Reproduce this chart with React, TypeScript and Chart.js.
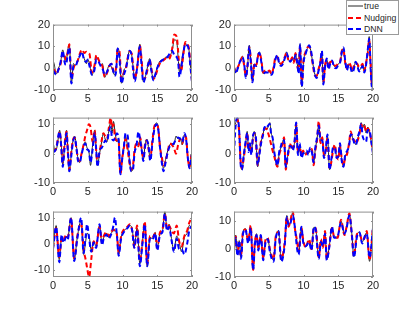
import React, { useEffect, useRef } from "react";
import { Chart, registerables } from "chart.js";
Chart.register(...registerables);

// ---------- data ----------
const SERIES_NAMES = ["true", "Nudging", "DNN"];
const X_TICKS = [0, 5, 10, 15, 20];
const Y_TICKS_TOP = [-10, 0, 10, 20];
const Y_TICKS = [-10, 0, 10];

const T1 = [0,0.2,0.45,0.8,1.1,1.4,1.65,1.85,2.2,2.35,2.65,2.95,3.25,3.5,3.9,4.15,4.5,4.8,5.0,5.25,5.6,5.95,6.25,6.55,6.85,7.1,7.45,7.8,8.1,8.4,8.65,8.9,9.1,9.3,9.55,9.85,10.2,10.5,10.7,11.0,11.3,11.5,11.75,12.1,12.5,12.75,13.0,13.35,13.7,13.9,14.15,14.45,14.8,15.1,15.5,15.85,16.25,16.55,16.85,17.15,17.45,17.8,18.0,18.2,18.45,18.75,19.05,19.3,19.5,19.7,20];
const TRUE1 = [3.9,1.4,-2.7,0,2.9,8.4,4.4,2.9,9.7,11,-7,2.1,1.4,2.9,5.9,7.1,4.4,2.1,3.9,2.1,-3.2,0.6,5.1,3.6,1.4,2.1,-4.2,-0.9,1.4,0.6,-1.7,-3.2,0.6,9.2,6.6,-6.9,-0.9,0.6,3.6,8.1,6.6,1.4,-5,0.6,11,2.1,-6.2,-3.2,2.1,4.4,-0.9,-5,-1.7,1.4,3.6,3.9,5.1,4.8,5.9,8.1,13,12.4,5.1,-1.7,2.1,8.1,11.5,10,9.7,3.6,-6.2];
const NUDGING1 = [0,-1,-2.5,-0.5,2,7,6,4,9,11,-5,0,2,3,7,8.5,7,7.5,7,6.5,-2,1,6,4,2,1,-4,-2,1,2,-1,-2,1,8.5,8,-5,-2,0,4,7.5,7,2,-5,0,10.5,4,-5,-4,1,4,0,-5,-3,0,3,3.5,4.5,4,5,9,15.5,14.5,8,0,-1,6,12,11,10,5,-6];
const DNN1 = [-1,-2,-3,-0.5,3,8,3,1.5,8,9.5,-7,1,1,3,6,7.5,3.5,3,4,1,-3,-1,4,3,1,0,-3,-1.5,1,2,-1,-3.5,-1,9,5,-7,-3,0,3,8,6,0,-6,0,10,1,-6.5,-3,2,4,-1,-5.5,-2,1,3,4,4.5,5.5,7,8,6,5,3,-4,0,7,11,10.5,9,3,-6.5];

const T2 = [0,0.25,0.55,0.85,1.2,1.45,1.7,1.95,2.2,2.45,2.65,2.95,3.2,3.45,3.65,3.9,4.2,4.5,4.8,5.1,5.4,5.7,6.0,6.25,6.5,6.8,7.1,7.35,7.55,7.8,8.1,8.4,8.6,8.85,9.1,9.3,9.5,9.75,10.0,10.3,10.55,10.8,11.05,11.35,11.65,11.9,12.15,12.4,12.65,12.85,13.1,13.35,13.6,13.85,14.1,14.4,14.7,15.0,15.3,15.55,15.75,16.0,16.25,16.5,16.75,17.0,17.25,17.5,17.75,18.0,18.25,18.5,18.75,19.0,19.25,19.45,19.7,19.85,20];
const TRUE2 = [0,-2,0,3,5.5,2,-4,1,10.5,2,-6,2,1,6,7.5,4,-2.5,-1.5,-2,-1.5,-3,0,5,5.5,2.5,1.5,3,5,7.5,4.5,3,4.5,3,6.5,2,-2,11,-8.5,3,7,9,10.5,8,2,-3,-4,-1,2,7.5,-7,1,4,0,2.5,3.5,1,0.5,2,3,8,9,3,-0.5,2,1,-1.5,0,3,1.5,-1,0,1.5,-1.5,2,8,14.5,-2,-8.5,4];
const NUDGING2 = [0.5,-1.5,0.5,2.5,5,1.5,-3.5,1.5,9.5,3,-5.5,2.5,1.5,5.5,7,4.5,-2,-1,-1.5,-1,-2.5,0.5,5.5,5,3,2,3.5,5.5,7,4,3.5,5,2.5,7,1,-1,10,-7.5,3.5,7.5,9.5,10,7.5,1.5,-3.5,-3.5,-0.5,2.5,7,-6.5,1.5,3.5,0.5,3,3,1.5,1,2.5,3.5,8.5,8.5,2.5,0,2.5,1.5,-1,1,2.5,2,0.5,1,2,-1,2.5,7,13,-1,-7.5,5];
const DNN2 = [0,-2.5,0,3,5,2.5,-4.5,1,10,1.5,-6.5,1.5,1,6,7,3.5,-2.5,-2,-2,-2,-3,-0.5,4.5,6,2,1,2.5,5,7,5,3,4,3.5,6,2.5,-2.5,11,-8.5,2.5,6.5,9,10.5,8.5,2.5,-3,-4.5,-1.5,2,8,-7.5,0.5,4.5,-0.5,2,3.5,0.5,0,1.5,3,8,9.5,3.5,-1,1.5,0.5,-2,-0.5,3,1,-1.5,-0.5,1,-2,1.5,8.5,13.5,-2.5,-9,3.5];

const T3 = [0,0.3,0.55,0.8,0.95,1.2,1.4,1.65,1.95,2.15,2.35,2.6,2.85,3.1,3.35,3.6,3.85,4.1,4.4,4.65,4.9,5.15,5.4,5.7,6.0,6.2,6.4,6.7,7.0,7.25,7.5,7.75,8.05,8.3,8.5,8.7,8.95,9.2,9.45,9.7,9.95,10.2,10.45,10.75,11.0,11.25,11.5,11.75,12.0,12.3,12.55,12.8,13.0,13.25,13.5,13.75,14.0,14.3,14.6,14.9,15.15,15.4,15.65,15.9,16.2,16.5,16.8,17.1,17.4,17.7,18.0,18.3,18.6,18.9,19.15,19.4,19.65,19.85,20];
const TRUE3 = [4,1,2,6,8,3,-4,2,8,1,-6,-1,4,6,3,-2,-3,0,3,4,2,1,-4,3,8,2,-4,0,4,7,5,4,8,11,7,11,7,4,5,-6,-1,3,6,2,-2,-6,-5,1,3,3,5,1,-2,3,5,2,-2,4,9,10.5,9,3,-2,-5,-2,1,3,3.5,3,6,5,5.5,3,6.5,5,-1,-5,-1,0];
const NUDGING3 = [1,1,3,6,7.5,2,-3,3,7.5,0,-5.5,0,4.5,5.5,2,-1.5,-2.5,0,3,6,8,10,9,4,8,1.5,-3.5,0.5,4.5,7,6,5,9,12.3,9,10,5,4.5,4,-7,-2,2,5,1,-3,-5.5,-4,1.5,3.5,2.5,5.5,0.5,-1.5,3.5,4.5,1.5,-1.5,4.5,9.5,10,8.5,2,-1,-4,-2.5,0.5,3.5,3,2,0,3,5,3.5,6,5.5,-1.5,-4.5,-1.5,0.5];
const DNN3 = [0.5,1,2.5,6.5,7.5,2,-4.5,1.5,7,0.5,-6,-1.5,3.5,5.5,2.5,-2.5,-3,-0.5,2.5,3.5,1.5,1,-3,1.5,7,2,-4.5,1,2,3,4.5,4,7.5,9,5,4.5,5.5,7,4.5,-7,-2,2.5,7,6,-2,-6,-5.5,0.5,2.5,7.5,4.5,0.5,-2.5,2.5,4.5,2.5,-2.5,3.5,8.5,10,8,2,-3,-6,-3,0.5,2.5,3,3.5,5,5.5,5,4,7,5,-1.5,-5,-2,0];

const T4 = [0,0.25,0.5,0.75,0.95,1.15,1.4,1.7,1.9,2.1,2.3,2.5,2.7,2.9,3.15,3.4,3.65,3.9,4.15,4.4,4.65,4.9,5.15,5.35,5.55,5.8,6.05,6.25,6.5,6.75,7.0,7.2,7.45,7.7,7.95,8.2,8.45,8.7,8.95,9.2,9.45,9.7,9.95,10.2,10.45,10.7,10.95,11.2,11.45,11.7,11.95,12.2,12.45,12.7,12.95,13.2,13.45,13.75,14.0,14.25,14.5,14.75,15.0,15.25,15.5,15.75,16.0,16.3,16.55,16.8,17.05,17.3,17.55,17.8,18.05,18.3,18.5,18.75,19.0,19.25,19.5,19.75,20];
const TRUE4 = [9,10.5,12,8,-3,-5.5,-1,4,7.5,1,3,0,5,7.5,5,-4.5,0,4,6,9,8,9,10.5,7,5,0,-3,-4.5,0,2,4,5,-5,-1,2,3,1.5,3.5,10.5,0,3,-1,0.5,0,0.5,0,1.5,1,-3.5,1.5,5,10,4,5,-1,1,6,-5.5,-2.5,1.5,2.5,-1,-1.5,3,-2,-4.5,-1,0.5,3,7,5.5,4,3,5,7,10.5,8.5,10,7,9,7,4,0];
const NUDGING4 = [8.5,10,11.5,7,-2.5,-5,-1.5,3.5,7,1.5,2.5,0.5,4.5,7,4.5,-4,0.5,4.5,6.5,8.5,8.5,7,5,3,1,-1,-3.5,-4.5,-0.5,1.5,3.5,5.5,-5.5,-1.5,1.5,3.5,2,3,10,0.5,2.5,-0.5,1,-0.5,0,0.5,1,1.5,-4,1,4.5,11,3.5,5.5,-0.5,0.5,5.5,-5,-3,1,3,-0.5,-2,2.5,-1.5,-4,-1.5,0,3.5,7.5,5,4.5,3.5,4.5,6.5,10,9,9.5,7.5,8.5,7.5,4.5,0.5];
const DNN4 = [0,10,12,7.5,-3.5,-5.5,-0.5,4.5,7,0.5,3.5,-0.5,5.5,7,5.5,-4,-0.5,3.5,6,9,8.5,9.5,10,6.5,5.5,0.5,-2.5,-4,0.5,2.5,4.5,4.5,-4.5,-1,2.5,2.5,1,4,10.5,-0.5,3.5,-1.5,0,0.5,1,-0.5,2,0.5,-3,2,5.5,9.5,4.5,4.5,-1.5,1.5,6.5,-5.5,-2,2,2,-1.5,-1,3.5,-2.5,-4.5,-0.5,1,2.5,6.5,6,3.5,3,5.5,7.5,10,6,4.5,4,8,8,4,0];

const T5 = [0,0.45,0.9,1.25,1.5,1.9,2.1,2.6,3.05,3.5,4.05,4.4,4.7,4.9,5.2,5.5,5.85,6.2,6.7,7.05,7.3,7.7,8.0,8.35,8.7,8.9,9.2,9.45,9.8,10.2,10.7,11.05,11.4,11.7,12.1,12.5,12.85,13.2,13.55,13.95,14.3,14.7,15.0,15.4,15.75,16.1,16.4,16.7,17.05,17.4,17.8,18.15,18.5,18.9,19.3,19.6,20];
const TRUE5 = [-2.5,7,-6,3,1,3,2,10,-6,2.5,9,-4,1,4,3,-2.5,1,-1,7,0,2.5,4,2.5,4,5,5,4,-4,2.5,5,6,7,5.6,-1,6,-7.5,0,8,-8.5,2.5,2,4.4,-2,4,5,12.3,5.6,7.5,2,-2.5,3,0.6,-3,2.5,4,7,6];
const NUDGING5 = [-1.5,6,-5,2.5,1.5,3.5,2.5,9.5,-5.5,3,8,-2,-6,-9,-12.6,-6,1,-0.5,6.5,0.5,3,4.5,3,4.5,5.5,5,3.5,-3.5,3,5.5,6.5,7.5,5,-1.5,7,-6.5,0.5,8.5,-7.5,3,2.5,4,-1.5,4.5,5.5,11.5,6,7,5,4,7,1,-1,3,5,8,10];
const DNN5 = [-2,6.5,-7,3.5,0.5,2.5,1.5,10,-6.5,2,10,-3.5,3,7.5,2,-3,0.5,-1.5,7.5,-0.5,2,3.5,2,3.5,7,10,3,-4.5,2,4.5,6,7,5,-1.5,5.5,-8.5,-0.5,7.5,-8.5,2,1.5,4,-2.5,3.5,4.5,11.5,5,6.5,1.5,-3,2,-2,-2,-4,0,5,7];

const T6 = [0,0.25,0.5,0.75,1.0,1.3,1.65,2.05,2.4,2.75,3.0,3.25,3.5,3.85,4.2,4.55,4.85,5.2,5.7,6.0,6.4,6.8,7.3,7.6,7.85,8.1,8.45,8.75,9.1,9.3,9.7,9.95,10.3,10.8,11.15,11.5,11.75,12.2,12.5,12.8,13.1,13.35,13.7,14.1,14.4,14.9,15.4,15.9,16.2,16.6,16.95,17.25,17.7,18.05,18.45,18.8,19.1,19.5,20];
const TRUE6 = [0,5,-2,3,-3,6,7.3,2.5,8,-7,2,5.5,0,5,-3.5,3,3.7,-1,-4,4,6.6,-4,2,12,8.3,9.5,13,7.8,2,-1.5,7.8,3,0.8,3,-0.3,7.8,7.2,-3.3,3,0.8,6,-3.8,0.8,7.8,4.3,4.3,10,5.5,7.8,12.4,5.5,-2.7,5,6,2.5,4.3,6,-4.4,7.8];
const NUDGING6 = [0.5,4.5,-1.5,2.5,-2.5,6.5,7,3,8.5,-7.5,2.5,5,0.5,4.5,-3,3.5,4,-0.5,-3.5,4.5,6,-3.5,2.5,11.5,8,10,13.4,7.5,2.5,-1,7.5,3.5,0.5,3.5,0,7.5,7.5,-3,3.5,0.5,6.5,-3.5,1,7.5,4.5,4,10.5,5,8,12.8,5,-2.5,5.5,5.5,3,4,6.5,-4,8];
const DNN6 = [-0.5,4,-2.5,3,-3.5,5.5,7,2,7.5,-7.5,1.5,5,-0.5,5,-4,2.5,3.5,-1.5,-4.5,3.5,6.5,-4.5,1.5,11.5,8.5,9,12,8,-0.3,-2,8,2.5,1,2.5,-0.5,8,7,-3.5,2.5,1,5.5,-4,0.5,8,4,4.5,9.5,5.5,7.5,12,5.5,-3,4.5,6,2,4.5,5.5,-3,7.5];

// ---------- layout / style ----------
const FONT = '"Liberation Sans", Arial, Helvetica, sans-serif';
const TEXT = "#262626";
const FRAME = "#8f8f8f";
const STYLES = [
  { color: "#262626", width: 1, dash: [] as number[] },
  { color: "#ff0000", width: 2, dash: [5, 3] },
  { color: "#0000ff", width: 2, dash: [5, 3] },
];
const PLOT_W = 139;
const PLOT_H = 67;
const PAD_L = 32, PAD_T = 8, PAD_R = 10, AX_H = 17;
const CW = PAD_L + PLOT_W + PAD_R;
const CH = PAD_T + PLOT_H + AX_H;

const PANELS = [
  { t: T1, s: [TRUE1, NUDGING1, DNN1], yMin: -10, yMax: 20, yTicks: Y_TICKS_TOP, left: 53, top: 23 },
  { t: T2, s: [TRUE2, NUDGING2, DNN2], yMin: -10, yMax: 20, yTicks: Y_TICKS_TOP, left: 234, top: 23 },
  { t: T3, s: [TRUE3, NUDGING3, DNN3], yMin: -10, yMax: 12.3, yTicks: Y_TICKS, left: 53, top: 116 },
  { t: T4, s: [TRUE4, NUDGING4, DNN4], yMin: -10, yMax: 12.2, yTicks: Y_TICKS, left: 234, top: 116 },
  { t: T5, s: [TRUE5, NUDGING5, DNN5], yMin: -12.6, yMax: 12.3, yTicks: Y_TICKS, left: 53, top: 210 },
  { t: T6, s: [TRUE6, NUDGING6, DNN6], yMin: -10, yMax: 13.4, yTicks: Y_TICKS, left: 234, top: 210 },
];

const framePlugin = {
  id: "matlabFrame",
  afterDraw(chart: any) {
    const { ctx, chartArea } = chart;
    const { left, top, right, bottom } = chartArea;
    const xs = chart.scales.x;
    const ys = chart.scales.y;
    ctx.save();
    ctx.strokeStyle = FRAME;
    ctx.lineWidth = 1;
    ctx.setLineDash([]);
    ctx.strokeRect(left + 0.5, top + 0.5, right - left - 1, bottom - top - 1);
    ctx.beginPath();
    const tl = 2;
    xs.ticks.forEach((tk: any) => {
      const px = Math.round(xs.getPixelForValue(tk.value)) + 0.5;
      ctx.moveTo(px, bottom);
      ctx.lineTo(px, bottom - tl);
      ctx.moveTo(px, top);
      ctx.lineTo(px, top + tl);
    });
    ys.ticks.forEach((tk: any) => {
      const py = Math.round(ys.getPixelForValue(tk.value)) + 0.5;
      ctx.moveTo(left, py);
      ctx.lineTo(left + tl, py);
      ctx.moveTo(right, py);
      ctx.lineTo(right - tl, py);
    });
    ctx.stroke();
    ctx.restore();
  },
};

function Panel({ cfg }: { cfg: (typeof PANELS)[number] }) {
  const ref = useRef<HTMLCanvasElement>(null);
  useEffect(() => {
    const chart = new Chart(ref.current as HTMLCanvasElement, {
      type: "line",
      data: {
        datasets: SERIES_NAMES.map((name, k) => ({
          label: name,
          data: cfg.t.map((x, i) => ({ x, y: cfg.s[k][i] })),
          borderColor: STYLES[k].color,
          borderWidth: STYLES[k].width,
          borderDash: STYLES[k].dash,
          pointRadius: 0,
          cubicInterpolationMode: "monotone" as const,
          fill: false,
          clip: 0,
          order: 3 - k,
        })),
      },
      options: {
        animation: false,
        responsive: false,
        devicePixelRatio: 1,
        events: [],
        layout: { padding: { left: 0, top: PAD_T, right: PAD_R, bottom: 0 } },
        plugins: { legend: { display: false }, tooltip: { enabled: false } },
        scales: {
          x: {
            type: "linear",
            min: 0,
            max: 20,
            afterBuildTicks: (s: any) => {
              s.ticks = X_TICKS.map((v) => ({ value: v }));
            },
            afterFit: (s: any) => {
              s.height = AX_H;
            },
            grid: { display: false, drawTicks: false },
            border: { display: false },
            ticks: {
              padding: 2,
              autoSkip: false,
              maxRotation: 0,
              color: TEXT,
              font: { family: FONT, size: 11 },
              callback: (v: any) => String(v),
            },
          },
          y: {
            type: "linear",
            min: cfg.yMin,
            max: cfg.yMax,
            afterBuildTicks: (s: any) => {
              s.ticks = cfg.yTicks.map((v) => ({ value: v }));
            },
            afterFit: (s: any) => {
              s.width = PAD_L;
            },
            grid: { display: false, drawTicks: false },
            border: { display: false },
            ticks: {
              padding: 3,
              autoSkip: false,
              color: TEXT,
              font: { family: FONT, size: 11 },
              callback: (v: any) => String(v),
            },
          },
        },
      },
      plugins: [framePlugin],
    } as any);
    return () => chart.destroy();
  }, []);
  return (
    <canvas
      ref={ref}
      width={CW}
      height={CH}
      style={{ position: "absolute", left: cfg.left - PAD_L, top: cfg.top - PAD_T, width: CW, height: CH }}
    />
  );
}

function Legend() {
  const rowY = [6.3, 18.3, 29.3];
  return (
    <div
      style={{
        position: "absolute",
        left: 346,
        top: 0,
        width: 53,
        height: 35,
        boxSizing: "border-box",
        border: "1px solid #9a9a9a",
        background: "#ffffff",
        fontFamily: FONT,
        fontSize: "8.7px",
        color: TEXT,
      }}
    >
      {SERIES_NAMES.map((name, k) => (
        <React.Fragment key={name}>
          <svg
            width={15}
            height={4}
            style={{ position: "absolute", left: 1, top: rowY[k] - 2 - 1 }}
          >
            <line
              x1={0}
              y1={2}
              x2={15}
              y2={2}
              stroke={STYLES[k].color}
              strokeWidth={STYLES[k].width}
              strokeDasharray={STYLES[k].dash.length ? STYLES[k].dash.join(",") : undefined}
            />
          </svg>
          <span
            style={{
              position: "absolute",
              left: 17,
              top: rowY[k] - 5 - 1,
              lineHeight: "10px",
              whiteSpace: "nowrap",
            }}
          >
            {name}
          </span>
        </React.Fragment>
      ))}
    </div>
  );
}

export default function App() {
  return (
    <div
      style={{
        position: "fixed",
        left: 0,
        top: 0,
        width: 411,
        height: 312,
        background: "#ffffff",
        overflow: "hidden",
      }}
    >
      {PANELS.map((cfg, i) => (
        <Panel key={i} cfg={cfg} />
      ))}
      <Legend />
    </div>
  );
}
